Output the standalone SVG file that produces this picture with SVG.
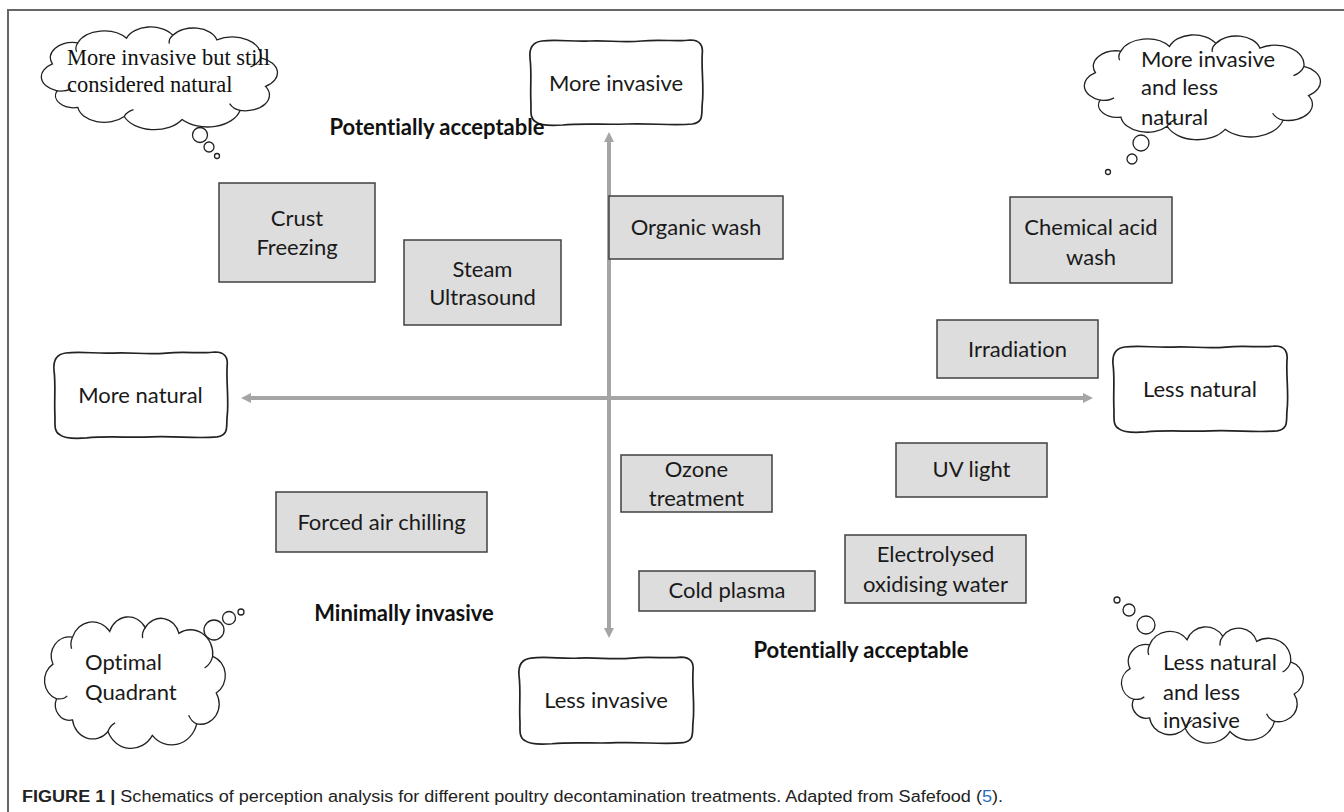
<svg xmlns="http://www.w3.org/2000/svg" xmlns:xlink="http://www.w3.org/1999/xlink" width="1344" height="812" viewBox="0 0 1344 812">
<style>
text{font-variant-ligatures:none}
.frame{stroke:#666;stroke-width:2;fill:none}
.box{fill:#dddddd;stroke:#404040;stroke-width:1.5}
.wavy{fill:#fff;stroke:#222;stroke-width:1.7;vector-effect:non-scaling-stroke}
.cloud{fill:#fff;stroke:#222;stroke-width:1.3;vector-effect:non-scaling-stroke}
.wisp{fill:none;stroke:#222;stroke-width:1.3;vector-effect:non-scaling-stroke}
.bub{fill:#fff;stroke:#222;stroke-width:1.3}
.t{font-family:Lato,"Open Sans",sans-serif;font-size:22px;fill:#1a1a1a;text-anchor:middle}
.tw{font-family:Lato,"Open Sans",sans-serif;font-size:22px;fill:#1a1a1a;text-anchor:middle}
.tc{font-family:Lato,"Open Sans",sans-serif;font-size:22px;fill:#1a1a1a}
.ts{font-family:"Liberation Serif","Times New Roman",serif;font-size:22.5px;fill:#111}
.tb{font-family:Lato,"Open Sans",sans-serif;font-size:22px;font-weight:bold;fill:#111;text-anchor:middle}
.cap{font-family:"Liberation Sans",Arial,sans-serif;font-size:16px;fill:#222}
.axis{stroke:#a5a5a5;stroke-width:4;fill:none}
</style>
<defs>
<marker id="ah" viewBox="0 0 10 10" markerWidth="10" markerHeight="10" markerUnits="userSpaceOnUse" refX="1" refY="5" orient="auto-start-reverse">
<path d="M0,0 L10,5 L0,10 Z" fill="#a5a5a5"/>
</marker>
<g id="cloudShape">
<path class="cloud" d="M13,85 A20,20 0 0 1 9,49 A20,20 0 0 1 31,21 A24,24 0 0 1 73,15 A22,22 0 0 1 113,11 A21,21 0 0 1 151,17 A25,25 0 0 1 189,41 A21,21 0 0 1 193,79 A21,21 0 0 1 171,111 A29,29 0 0 1 121,123 A28,28 0 0 1 71,119 A23,23 0 0 1 31,107 A16,16 0 0 1 13,85 Z"/>
<path class="wisp" d="M31,21 q-3,6 -1,12 M113,11 q-4,5 -3,11 M189,41 q-2,8 -9,12 M171,111 q-6,-2 -9,-9 M71,119 q2,-6 8,-9 M13,85 q8,1 12,-3"/>
</g>
<path id="wavyShape" class="wavy" d="M14,3 C30,1 45,4 62,3 C80,2 95,5 115,3 C135,1 150,4 164,2 C174,2 177,8 176,16 C175,32 178,50 176,66 C175,76 178,84 166,86 C145,88 125,85 100,86 C78,87 55,85 35,87 C22,88 12,87 8,84 C2,81 3,74 3,66 C2,50 4,35 2,20 C1,9 5,4 14,3 Z"/>
</defs>
<rect width="1344" height="812" fill="#fff"/>
<path class="frame" d="M8,812 L8,10 L1344,10"/>

<g id="connectors">
<line class="axis" x1="250" y1="398" x2="1084" y2="398" marker-start="url(#ah)" marker-end="url(#ah)"/>
<line class="axis" x1="609" y1="141" x2="609" y2="629" marker-start="url(#ah)" marker-end="url(#ah)"/>
</g>

<g id="cloud-tl">
<use xlink:href="#cloudShape" transform="translate(42,27) scale(1.158,0.752)"/>
<circle class="bub" cx="200" cy="135" r="7.5"/>
<circle class="bub" cx="209" cy="147" r="5"/>
<circle class="bub" cx="217" cy="156" r="2.5"/>
<text class="ts" x="67" y="65">More invasive but still</text>
<text class="ts" x="67" y="92">considered natural</text>
</g>

<g id="cloud-tr">
<use xlink:href="#cloudShape" transform="translate(1085,35) scale(1.158,0.767)"/>
<circle class="bub" cx="1141" cy="143" r="8"/>
<circle class="bub" cx="1132" cy="159" r="5"/>
<circle class="bub" cx="1108" cy="172" r="2.5"/>
<text class="tc" x="1141" y="67">More invasive</text>
<text class="tc" x="1141" y="95">and less</text>
<text class="tc" x="1141" y="125">natural</text>
</g>

<g id="cloud-bl">
<use xlink:href="#cloudShape" transform="translate(45,617) scale(0.887,0.962)"/>
<circle class="bub" cx="214" cy="630" r="10"/>
<circle class="bub" cx="229" cy="618" r="6.5"/>
<circle class="bub" cx="241" cy="612" r="3"/>
<text class="tc" x="85" y="670">Optimal</text>
<text class="tc" x="85" y="700">Quadrant</text>
</g>

<g id="cloud-br">
<use xlink:href="#cloudShape" transform="translate(1122,627) scale(0.892,0.85)"/>
<circle class="bub" cx="1146" cy="625" r="9"/>
<circle class="bub" cx="1129" cy="610" r="6"/>
<circle class="bub" cx="1117" cy="600" r="3"/>
<text class="tc" x="1163" y="670">Less natural</text>
<text class="tc" x="1163" y="700">and less</text>
<text class="tc" x="1163" y="728">invasive</text>
</g>

<g id="more-invasive">
<use xlink:href="#wavyShape" transform="translate(528,38) scale(0.99,1)"/>
<text class="tw" x="616" y="91">More invasive</text>
</g>
<g id="more-natural">
<use xlink:href="#wavyShape" transform="translate(52,350) scale(0.995,1.01)"/>
<text class="tw" x="140.5" y="403">More natural</text>
</g>
<g id="less-natural">
<use xlink:href="#wavyShape" transform="translate(1111,344) scale(1,1.01)"/>
<text class="tw" x="1200" y="397">Less natural</text>
</g>
<g id="less-invasive">
<use xlink:href="#wavyShape" transform="translate(517,655) scale(1,1.02)"/>
<text class="tw" x="606" y="708">Less invasive</text>
</g>

<g id="label-pa-top"><text class="tb" x="437" y="135">Potentially acceptable</text></g>
<g id="label-mi"><text class="tb" x="404" y="621">Minimally invasive</text></g>
<g id="label-pa-bottom"><text class="tb" x="861" y="658">Potentially acceptable</text></g>

<g id="crust-freezing">
<rect class="box" x="219" y="183" width="156" height="99"/>
<text class="t" x="297" y="226">Crust</text>
<text class="t" x="297" y="255">Freezing</text>
</g>
<g id="steam-ultrasound">
<rect class="box" x="404" y="240" width="157" height="85"/>
<text class="t" x="482.5" y="277">Steam</text>
<text class="t" x="482.5" y="305">Ultrasound</text>
</g>
<g id="organic-wash">
<rect class="box" x="609" y="196" width="174" height="63"/>
<text class="t" x="696" y="235">Organic wash</text>
</g>
<g id="chemical-acid-wash">
<rect class="box" x="1010" y="197" width="162" height="86"/>
<text class="t" x="1091" y="235">Chemical acid</text>
<text class="t" x="1091" y="265">wash</text>
</g>
<g id="irradiation">
<rect class="box" x="937" y="320" width="161" height="58"/>
<text class="t" x="1017.5" y="357">Irradiation</text>
</g>
<g id="ozone-treatment">
<rect class="box" x="621" y="455" width="151" height="57"/>
<text class="t" x="696.5" y="477">Ozone</text>
<text class="t" x="696.5" y="506">treatment</text>
</g>
<g id="uv-light">
<rect class="box" x="896" y="443" width="151" height="54"/>
<text class="t" x="971.5" y="477">UV light</text>
</g>
<g id="forced-air-chilling">
<rect class="box" x="276" y="492" width="211" height="60"/>
<text class="t" x="381.5" y="530">Forced air chilling</text>
</g>
<g id="electrolysed-water">
<rect class="box" x="845" y="535" width="181" height="68"/>
<text class="t" x="935.5" y="562">Electrolysed</text>
<text class="t" x="935.5" y="592">oxidising water</text>
</g>
<g id="cold-plasma">
<rect class="box" x="639" y="571" width="176" height="40"/>
<text class="t" x="727" y="598">Cold plasma</text>
</g>

<g id="caption">
<text class="cap" x="22" y="802" textLength="981" lengthAdjust="spacingAndGlyphs"><tspan font-weight="bold">FIGURE 1 |</tspan> Schematics of perception analysis for different poultry decontamination treatments. Adapted from Safefood (<tspan fill="#2a6ebb">5</tspan>).</text>
</g>
</svg>
